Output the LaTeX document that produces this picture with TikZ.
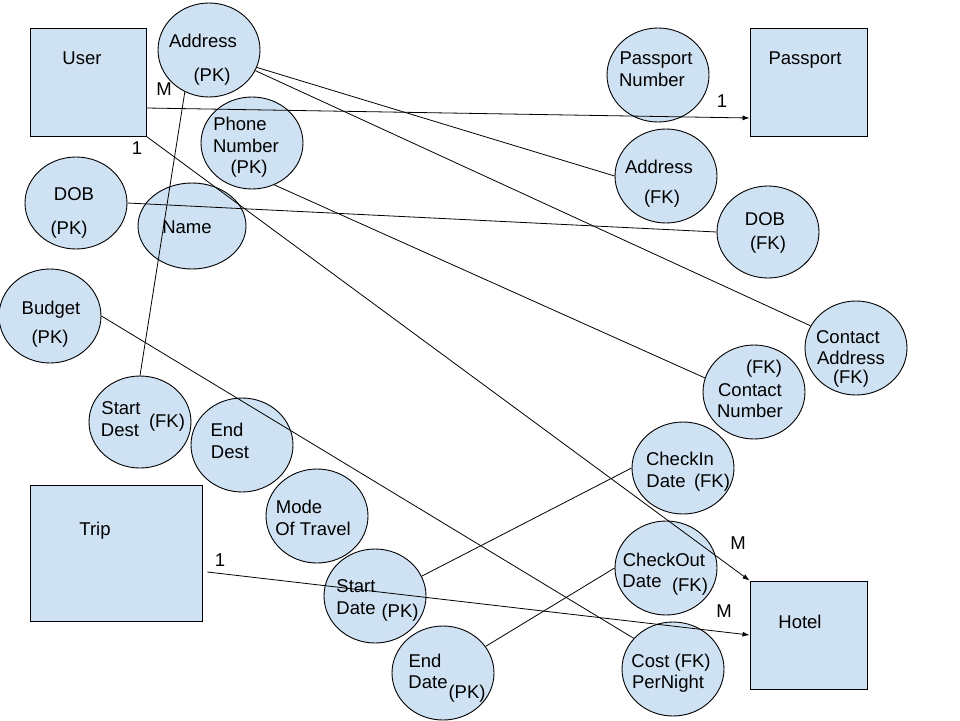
\documentclass[tikz,border=0pt]{standalone}
\usepackage{fontspec}
\setmainfont{Liberation Sans}
\usetikzlibrary{shapes.geometric,arrows.meta}
\definecolor{lb}{HTML}{CFE2F3}
\begin{document}
\begin{tikzpicture}[x=1pt,y=-1pt,
  attr/.style={ellipse,draw,fill=lb,line width=0.9pt,minimum width=102pt,minimum height=94pt,inner sep=0pt},
  ent/.style={rectangle,draw,fill=lb,line width=0.9pt,inner sep=0pt},
  txt/.style={anchor=base,inner sep=0pt,font=\fontsize{18.5}{22}\selectfont},
  conn/.style={line width=0.8pt},
  arr/.style={conn,-{Latex[length=7pt,width=5pt]}}]
\useasboundingbox[fill=white] (0,0) rectangle (960,720);
% entities
\node[ent,minimum width=116pt,minimum height=108pt] (user) at (88,82) {};
\node[ent,minimum width=117pt,minimum height=108pt] (passport) at (808.5,82) {};
\node[ent,minimum width=117pt,minimum height=108pt] (hotel) at (808.5,635) {};
\node[ent,minimum width=172pt,minimum height=136pt] (trip) at (116,553) {};
% attributes
\node[attr] (addrpk) at (209,50) {};
\node[attr,minimum height=92pt] (phonepk) at (252,143) {};
\node[attr,minimum height=92pt] (dobpk) at (76,203) {};
\node[attr,minimum width=108pt,minimum height=86pt] (name) at (192,226) {};
\node[attr] (budget) at (50,316) {};
\node[attr,minimum height=92pt] (startdest) at (140,422) {};
\node[attr] (enddest) at (242,445) {};
\node[attr] (mode) at (317,516) {};
\node[attr] (startdate) at (375,596) {};
\node[attr] (enddate) at (443,673) {};
\node[attr] (passnum) at (658,75) {};
\node[attr] (addrfk) at (666,176) {};
\node[attr,minimum height=92pt] (dobfk) at (768,232) {};
\node[attr] (caddr) at (856,348) {};
\node[attr] (cnum) at (754,392) {};
\node[attr,minimum height=92pt] (checkin) at (683,468) {};
\node[attr] (checkout) at (666,568) {};
\node[attr] (cost) at (673,669) {};
% connectors
\draw[arr] ([yshift=-26pt]user.east) -- ([yshift=-36pt]passport.west);
\draw[arr] (user.south east) -- (hotel.north west);
\draw[arr] ([xshift=5pt,yshift=-19pt]trip.east) -- (hotel.west);
\draw[conn] (addrpk.-20) -- (addrfk.west);
\draw[conn] (addrpk.-24) -- (caddr.154);
\draw[conn] (addrpk.-120) -- (startdest.north);
\draw[conn] (phonepk.-62) -- (cnum.164);
\draw[conn] (dobpk.east) -- (dobfk.west);
\draw[conn] (budget.east) -- (cost.142);
\draw[conn] (startdate.23) -- (checkin.west);
\draw[conn] (enddate.32) -- (checkout.west);
% cardinalities
\node[txt] (cM1) at (164,95) {M};
\node[txt] (c11) at (722,107) {1};
\node[txt] (c12) at (137,154) {1};
\node[txt] (cM2) at (738,549) {M};
\node[txt] (c13) at (220,566) {1};
\node[txt] (cM3) at (724,617) {M};
% entity labels
\node[txt] (tuser) at (82,64) {User};
\node[txt] (tpass) at (805,64) {Passport};
\node[txt] (thotel) at (800,628) {Hotel};
\node[txt] (ttrip) at (95,535) {Trip};
% attribute labels
\node[txt] (ta1) at (203,47) {Address};
\node[txt] (ta2) at (212,81) {(PK)};
\node[txt] (tp1) at (240,130) {Phone};
\node[txt] (tp2) at (246,152) {Number};
\node[txt] (tp3) at (249,173) {(PK)};
\node[txt] (td1) at (74,200) {DOB};
\node[txt] (td2) at (69,234) {(PK)};
\node[txt] (tn1) at (187,233) {Name};
\node[txt] (tb1) at (51,314) {Budget};
\node[txt] (tb2) at (50,343) {(PK)};
\node[txt] (tsd1) at (121,414) {Start};
\node[txt] (tsd2) at (120,436) {Dest};
\node[txt] (tsd3) at (167,427) {(FK)};
\node[txt] (ted1) at (227,436) {End};
\node[txt] (ted2) at (230,458) {Dest};
\node[txt] (tm1) at (299,513) {Mode};
\node[txt] (tm2) at (313,535) {Of Travel};
\node[txt] (tst1) at (356,592) {Start};
\node[txt] (tst2) at (356,614) {Date};
\node[txt] (tst3) at (400,617) {(PK)};
\node[txt] (ten1) at (425,667) {End};
\node[txt] (ten2) at (428,688) {Date};
\node[txt] (ten3) at (467,698) {(PK)};
\node[txt] (tpn1) at (656,64) {Passport};
\node[txt] (tpn2) at (652,86) {Number};
\node[txt] (taf1) at (659,173) {Address};
\node[txt] (taf2) at (662,203) {(FK)};
\node[txt] (tdf1) at (765,225) {DOB};
\node[txt] (tdf2) at (768,249) {(FK)};
\node[txt] (tca1) at (848,343) {Contact};
\node[txt] (tca2) at (851,364) {Address};
\node[txt] (tca3) at (851,383) {(FK)};
\node[txt] (tcn1) at (764,373) {(FK)};
\node[txt] (tcn2) at (750,396) {Contact};
\node[txt] (tcn3) at (750,417) {Number};
\node[txt] (tci1) at (680,465) {CheckIn};
\node[txt] (tci2) at (666,487) {Date};
\node[txt] (tci3) at (712,487) {(FK)};
\node[txt] (tco1) at (664,566) {CheckOut};
\node[txt] (tco2) at (642,587) {Date};
\node[txt] (tco3) at (690,591) {(FK)};
\node[txt] (tc1) at (671,667) {Cost (FK)};
\node[txt] (tc2) at (668,688) {PerNight};
\end{tikzpicture}
\end{document}
